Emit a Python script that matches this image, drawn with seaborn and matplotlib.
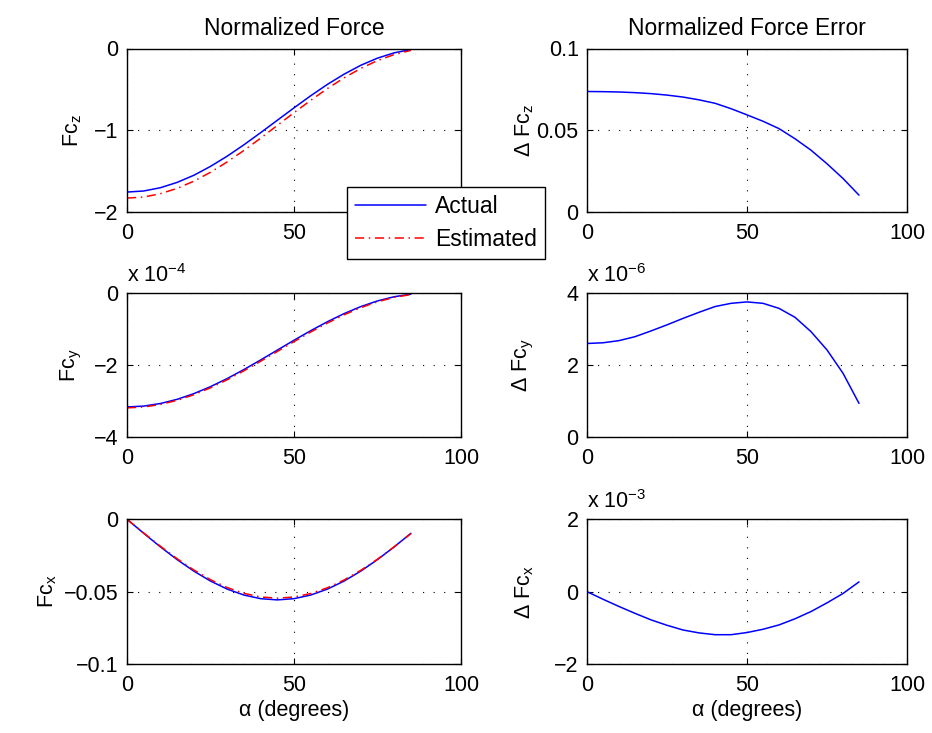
import matplotlib
matplotlib.use("Agg")
import matplotlib.pyplot as plt
import seaborn as sns
from matplotlib.ticker import FuncFormatter

# ---- data ----
alpha = [0, 5, 10, 15, 20, 25, 30, 35, 40, 45, 50, 55, 60, 65, 70, 75, 80, 85]

fcz_actual = [-1.756, -1.743, -1.703, -1.638, -1.551, -1.442, -1.317, -1.178, -1.030,
              -0.878, -0.726, -0.578, -0.439, -0.314, -0.205, -0.118, -0.053, -0.013]
fcz_est = [-1.830, -1.817, -1.776, -1.711, -1.623, -1.514, -1.387, -1.247, -1.097,
           -0.941, -0.785, -0.634, -0.490, -0.359, -0.243, -0.148, -0.074, -0.023]
dfcz = [0.0737, 0.0736, 0.0734, 0.0730, 0.0724, 0.0715, 0.0703, 0.0686, 0.0665,
        0.0632, 0.0594, 0.0555, 0.0510, 0.0448, 0.0378, 0.0295, 0.0205, 0.0103]

fcy_actual = [-3.170e-4, -3.146e-4, -3.074e-4, -2.958e-4, -2.799e-4, -2.604e-4, -2.378e-4,
              -2.127e-4, -1.860e-4, -1.585e-4, -1.310e-4, -1.043e-4, -0.793e-4, -0.566e-4,
              -0.371e-4, -0.212e-4, -0.096e-4, -0.024e-4]
fcy_est = [-3.196e-4, -3.172e-4, -3.101e-4, -2.986e-4, -2.829e-4, -2.635e-4, -2.411e-4,
           -2.162e-4, -1.896e-4, -1.622e-4, -1.348e-4, -1.080e-4, -0.829e-4, -0.599e-4,
           -0.400e-4, -0.236e-4, -0.114e-4, -0.033e-4]
dfcy = [2.60e-6, 2.62e-6, 2.68e-6, 2.79e-6, 2.95e-6, 3.12e-6, 3.30e-6, 3.47e-6, 3.63e-6,
        3.72e-6, 3.76e-6, 3.72e-6, 3.58e-6, 3.33e-6, 2.93e-6, 2.42e-6, 1.77e-6, 0.93e-6]

fcx_actual = [0.0, -0.00967, -0.01905, -0.02785, -0.0358, -0.04267, -0.04824, -0.05234,
              -0.05485, -0.0557, -0.05485, -0.05234, -0.04824, -0.04267, -0.0358,
              -0.02785, -0.01905, -0.00967]
fcx_est = [0.0, -0.00946, -0.01864, -0.02725, -0.03502, -0.04174, -0.04718, -0.05120,
           -0.05366, -0.05451, -0.05372, -0.05130, -0.04732, -0.04192, -0.03525,
           -0.02754, -0.01900, -0.00994]
dfcx = [0.0, -0.21e-3, -0.41e-3, -0.60e-3, -0.78e-3, -0.93e-3, -1.06e-3, -1.14e-3, -1.19e-3,
        -1.19e-3, -1.13e-3, -1.04e-3, -0.92e-3, -0.75e-3, -0.55e-3, -0.31e-3, -0.05e-3, 0.27e-3]

col_titles = ["Normalized Force", "Normalized Force Error"]
left_labels = ["Fc$_z$", "Fc$_y$", "Fc$_x$"]
right_labels = ["\u0394 Fc$_z$", "\u0394 Fc$_y$", "\u0394 Fc$_x$"]
xlabel_text = "\u03b1 (degrees)"
legend_labels = ["Actual", "Estimated"]

# ---- style ----
sns.set_theme(style="ticks")
plt.rcParams["font.family"] = ["Liberation Sans", "DejaVu Sans"]
plt.rcParams["mathtext.default"] = "regular"
plt.rcParams["axes.unicode_minus"] = True
plt.rcParams["text.color"] = "black"
plt.rcParams["axes.labelcolor"] = "black"
plt.rcParams["xtick.color"] = "black"
plt.rcParams["ytick.color"] = "black"

FS = 15.5
BLUE = "#0000ff"
RED = "#ff0000"

fig = plt.figure(figsize=(9.32, 7.33), dpi=100)
W, H = 932.0, 733.0

def ax_at(x0, x1, y0, y1):
    return fig.add_axes([x0 / W, 1 - y1 / H, (x1 - x0) / W, (y1 - y0) / H])

rows_px = [(48.5, 212.0), (293.3, 436.7), (519.3, 664.0)]
left_px = (127.0, 461.0)
right_px = (587.0, 907.0)

axL = [ax_at(left_px[0], left_px[1], r[0], r[1]) for r in rows_px]
axR = [ax_at(right_px[0], right_px[1], r[0], r[1]) for r in rows_px]

def fmt(scale, hide100=False):
    def f(v, p):
        s = f"{v / scale:g}"
        if s == "-0":
            s = "0"
        return s.replace("-", "\u2212")
    return FuncFormatter(f)

def style(ax, ylim, yticks, scale, ylabel, label_x, offset_exp=None):
    ax.set_xlim(0, 100)
    ax.set_xticks([0, 50, 100])
    ax.set_ylim(*ylim)
    ax.set_yticks(yticks)
    ax.yaxis.set_major_formatter(fmt(scale))
    ax.grid(True, color="black", linestyle=(0, (1, 8.5)), linewidth=0.8)
    ax.tick_params(direction="in", length=4, width=0.8, top=True, right=True,
                   labelsize=FS, colors="black")
    ax.tick_params(axis="x", pad=8)
    ax.tick_params(axis="y", pad=6)
    for sp in ax.spines.values():
        sp.set_linewidth(1.0)
        sp.set_color("black")
    ax.set_ylabel(ylabel, fontsize=FS)
    ax.yaxis.set_label_coords(label_x, 0.5)
    ax.set_xlabel("")
    if offset_exp is not None:
        ax.annotate("x 10$^{\u2212%d}$" % offset_exp, xy=(0, 1), xycoords="axes fraction",
                    xytext=(0, 8), textcoords="offset points", ha="left", va="baseline",
                    fontsize=FS)

# left column
left_series = [(fcz_actual, fcz_est), (fcy_actual, fcy_est), (fcx_actual, fcx_est)]
for ax, (act, est) in zip(axL, left_series):
    sns.lineplot(x=alpha, y=act, ax=ax, color=BLUE, linewidth=1.1, label=legend_labels[0],
                 estimator=None, sort=False)
    sns.lineplot(x=alpha, y=est, ax=ax, color=RED, linewidth=1.1, linestyle=(0, (6, 3, 1, 3)),
                 label=legend_labels[1], estimator=None, sort=False)
    if ax.get_legend():
        ax.get_legend().remove()

style(axL[0], (-2, 0), [-2, -1, 0], 1, left_labels[0], -0.13)
style(axL[1], (-4e-4, 0), [-4e-4, -2e-4, 0], 1e-4, left_labels[1], -0.13, 4)
style(axL[2], (-0.1, 0), [-0.1, -0.05, 0], 1, left_labels[2], -0.205)

# the "100" label of the top-left axes is hidden under the legend in the reference
axL[0].set_xticks([0, 50, 100], labels=["0", "50", ""])

# right column
for ax, d in zip(axR, [dfcz, dfcy, dfcx]):
    sns.lineplot(x=alpha, y=d, ax=ax, color=BLUE, linewidth=1.1, estimator=None, sort=False)

style(axR[0], (0, 0.1), [0, 0.05, 0.1], 1, right_labels[0], -0.16)
style(axR[1], (0, 4e-6), [0, 2e-6, 4e-6], 1e-6, right_labels[1], -0.16, 6)
style(axR[2], (-2e-3, 2e-3), [-2e-3, 0, 2e-3], 1e-3, right_labels[2], -0.16, 3)

axL[0].set_title(col_titles[0], fontsize=FS + 1, pad=10)
axR[0].set_title(col_titles[1], fontsize=FS + 1, pad=10)
axL[2].set_xlabel(xlabel_text, fontsize=FS, labelpad=3)
axR[2].set_xlabel(xlabel_text, fontsize=FS, labelpad=3)

handles, labels = axL[0].get_legend_handles_labels()
leg = fig.legend(handles[:2], labels[:2], loc="upper left",
                 bbox_to_anchor=(346.7 / W, 1 - 186.7 / H), borderaxespad=0,
                 fancybox=False, framealpha=1, edgecolor="black", fontsize=FS + 1,
                 handlelength=3.1, handletextpad=0.4, labelspacing=0.45,
                 borderpad=0.35)
leg.get_frame().set_linewidth(1.0)

fig.savefig("out.png", dpi=100, facecolor="white")
